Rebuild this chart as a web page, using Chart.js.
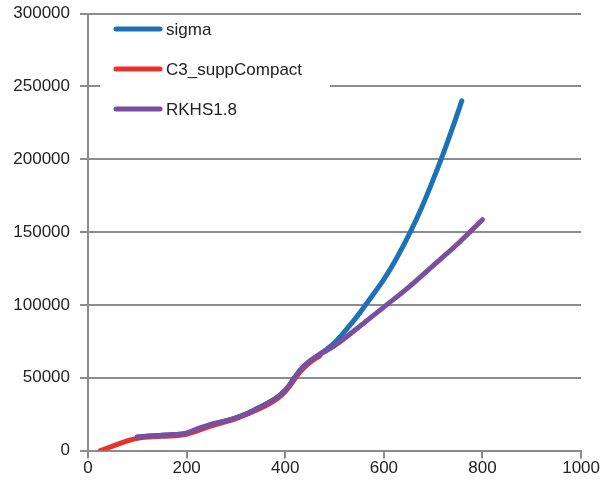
<!DOCTYPE html>
<html>
<head>
<meta charset="utf-8">
<script src="https://cdn.jsdelivr.net/npm/chart.js@4/dist/chart.umd.min.js"></script>
<style>
  html, body { margin: 0; padding: 0; background: #fff; }
  #wrap { width: 600px; height: 482px; }
</style>
</head>
<body>
<div id="wrap"><canvas id="chart" width="600" height="482"></canvas></div>
<script>
// series as (x, y) pairs
const sigmaX = [100, 125, 150, 175, 200, 225, 250, 275, 300, 325, 350, 375, 390, 400, 410, 420, 430, 440, 450, 475, 500, 525, 550, 575, 600, 625, 650, 675, 700, 725, 750, 758];
const sigmaY = [9300, 10000, 10600, 11000, 12000, 15200, 18000, 20000, 22500, 25800, 30000, 34600, 38300, 41500, 45600, 50500, 55000, 58500, 61500, 67300, 74000, 83500, 94000, 105600, 117500, 131500, 147500, 165500, 186000, 208000, 232000, 240000];

const c3X = [25, 100, 150, 200, 250, 300, 350, 375, 390, 400, 410, 420, 430, 440, 450, 470];
const c3Y = [0, 8500, 9800, 11200, 17000, 22000, 29000, 33600, 37300, 40500, 44600, 49500, 54000, 57500, 60500, 65000];

const rkhsX = [100, 125, 150, 175, 200, 225, 250, 275, 300, 325, 350, 375, 390, 400, 410, 420, 430, 440, 450, 475, 500, 550, 600, 650, 700, 750, 800];
const rkhsY = [9300, 10000, 10600, 11000, 12000, 15200, 18000, 20000, 22500, 25800, 30000, 34600, 38300, 41500, 45600, 50500, 55000, 58500, 61500, 67000, 72000, 85000, 98500, 112000, 127000, 142000, 158500];

const xTicks = [0, 200, 400, 600, 800, 1000];
const yTicks = [0, 50000, 100000, 150000, 200000, 250000, 300000];

const toPoints = (xs, ys) => xs.map((x, i) => ({ x: x, y: ys[i] }));

const gridGray = '#8c8c8c';
const font = { family: '"Liberation Sans", Arial, sans-serif', size: 17 };

// legend box drawn inside the plot, over the grid lines
const boxLegend = {
  id: 'boxLegend',
  beforeDatasetsDraw(chart) {
    const ctx = chart.ctx;
    ctx.save();
    ctx.fillStyle = '#fff';
    ctx.fillRect(100, 17, 230, 113);
    const rows = [29, 69, 109];
    chart.data.datasets.forEach((ds, i) => {
      const y = rows[i];
      ctx.strokeStyle = ds.borderColor;
      ctx.lineWidth = 5;
      ctx.lineCap = 'round';
      ctx.beginPath();
      ctx.moveTo(116, y);
      ctx.lineTo(160, y);
      ctx.stroke();
      ctx.fillStyle = '#222';
      ctx.font = font.size + 'px ' + font.family;
      ctx.textBaseline = 'middle';
      ctx.fillText(ds.label, 166, y + 1);
    });
    ctx.restore();
  }
};

new Chart(document.getElementById('chart'), {
  type: 'line',
  data: {
    datasets: [
      { label: 'sigma', data: toPoints(sigmaX, sigmaY), borderColor: '#1c72b8', order: 2 },
      { label: 'C3_suppCompact', data: toPoints(c3X, c3Y), borderColor: '#e5322b', order: 1 },
      { label: 'RKHS1.8', data: toPoints(rkhsX, rkhsY), borderColor: '#7a4fa0', order: 0 },
    ],
  },
  options: {
    responsive: false,
    animation: false,
    layout: { padding: { left: 0, right: 0, top: 0, bottom: 3 } },
    elements: {
      line: { borderWidth: 5, cubicInterpolationMode: 'monotone', borderCapStyle: 'round', borderJoinStyle: 'round', fill: false },
      point: { radius: 0 },
    },
    plugins: { legend: { display: false }, tooltip: { enabled: false } },
    scales: {
      x: {
        type: 'linear',
        min: 0,
        max: 1000,
        afterBuildTicks: (axis) => { axis.ticks = xTicks.map((v) => ({ value: v })); },
        ticks: { font: font, color: '#222', padding: 0, maxRotation: 0, callback: (v) => String(v) },
        grid: { drawOnChartArea: false, drawTicks: true, tickLength: 8, color: gridGray, lineWidth: 2 },
        border: { color: gridGray, width: 2 },
      },
      y: {
        type: 'linear',
        min: 0,
        max: 300000,
        afterBuildTicks: (axis) => { axis.ticks = yTicks.map((v) => ({ value: v })); },
        afterFit: (axis) => { axis.width = 88; axis.paddingTop = 13.5; },
        ticks: { font: font, color: '#222', padding: 10, callback: (v) => String(v) },
        grid: { color: gridGray, lineWidth: 2, tickLength: 8 },
        border: { color: gridGray, width: 2 },
      },
    },
  },
  plugins: [boxLegend],
});
</script>
</body>
</html>
